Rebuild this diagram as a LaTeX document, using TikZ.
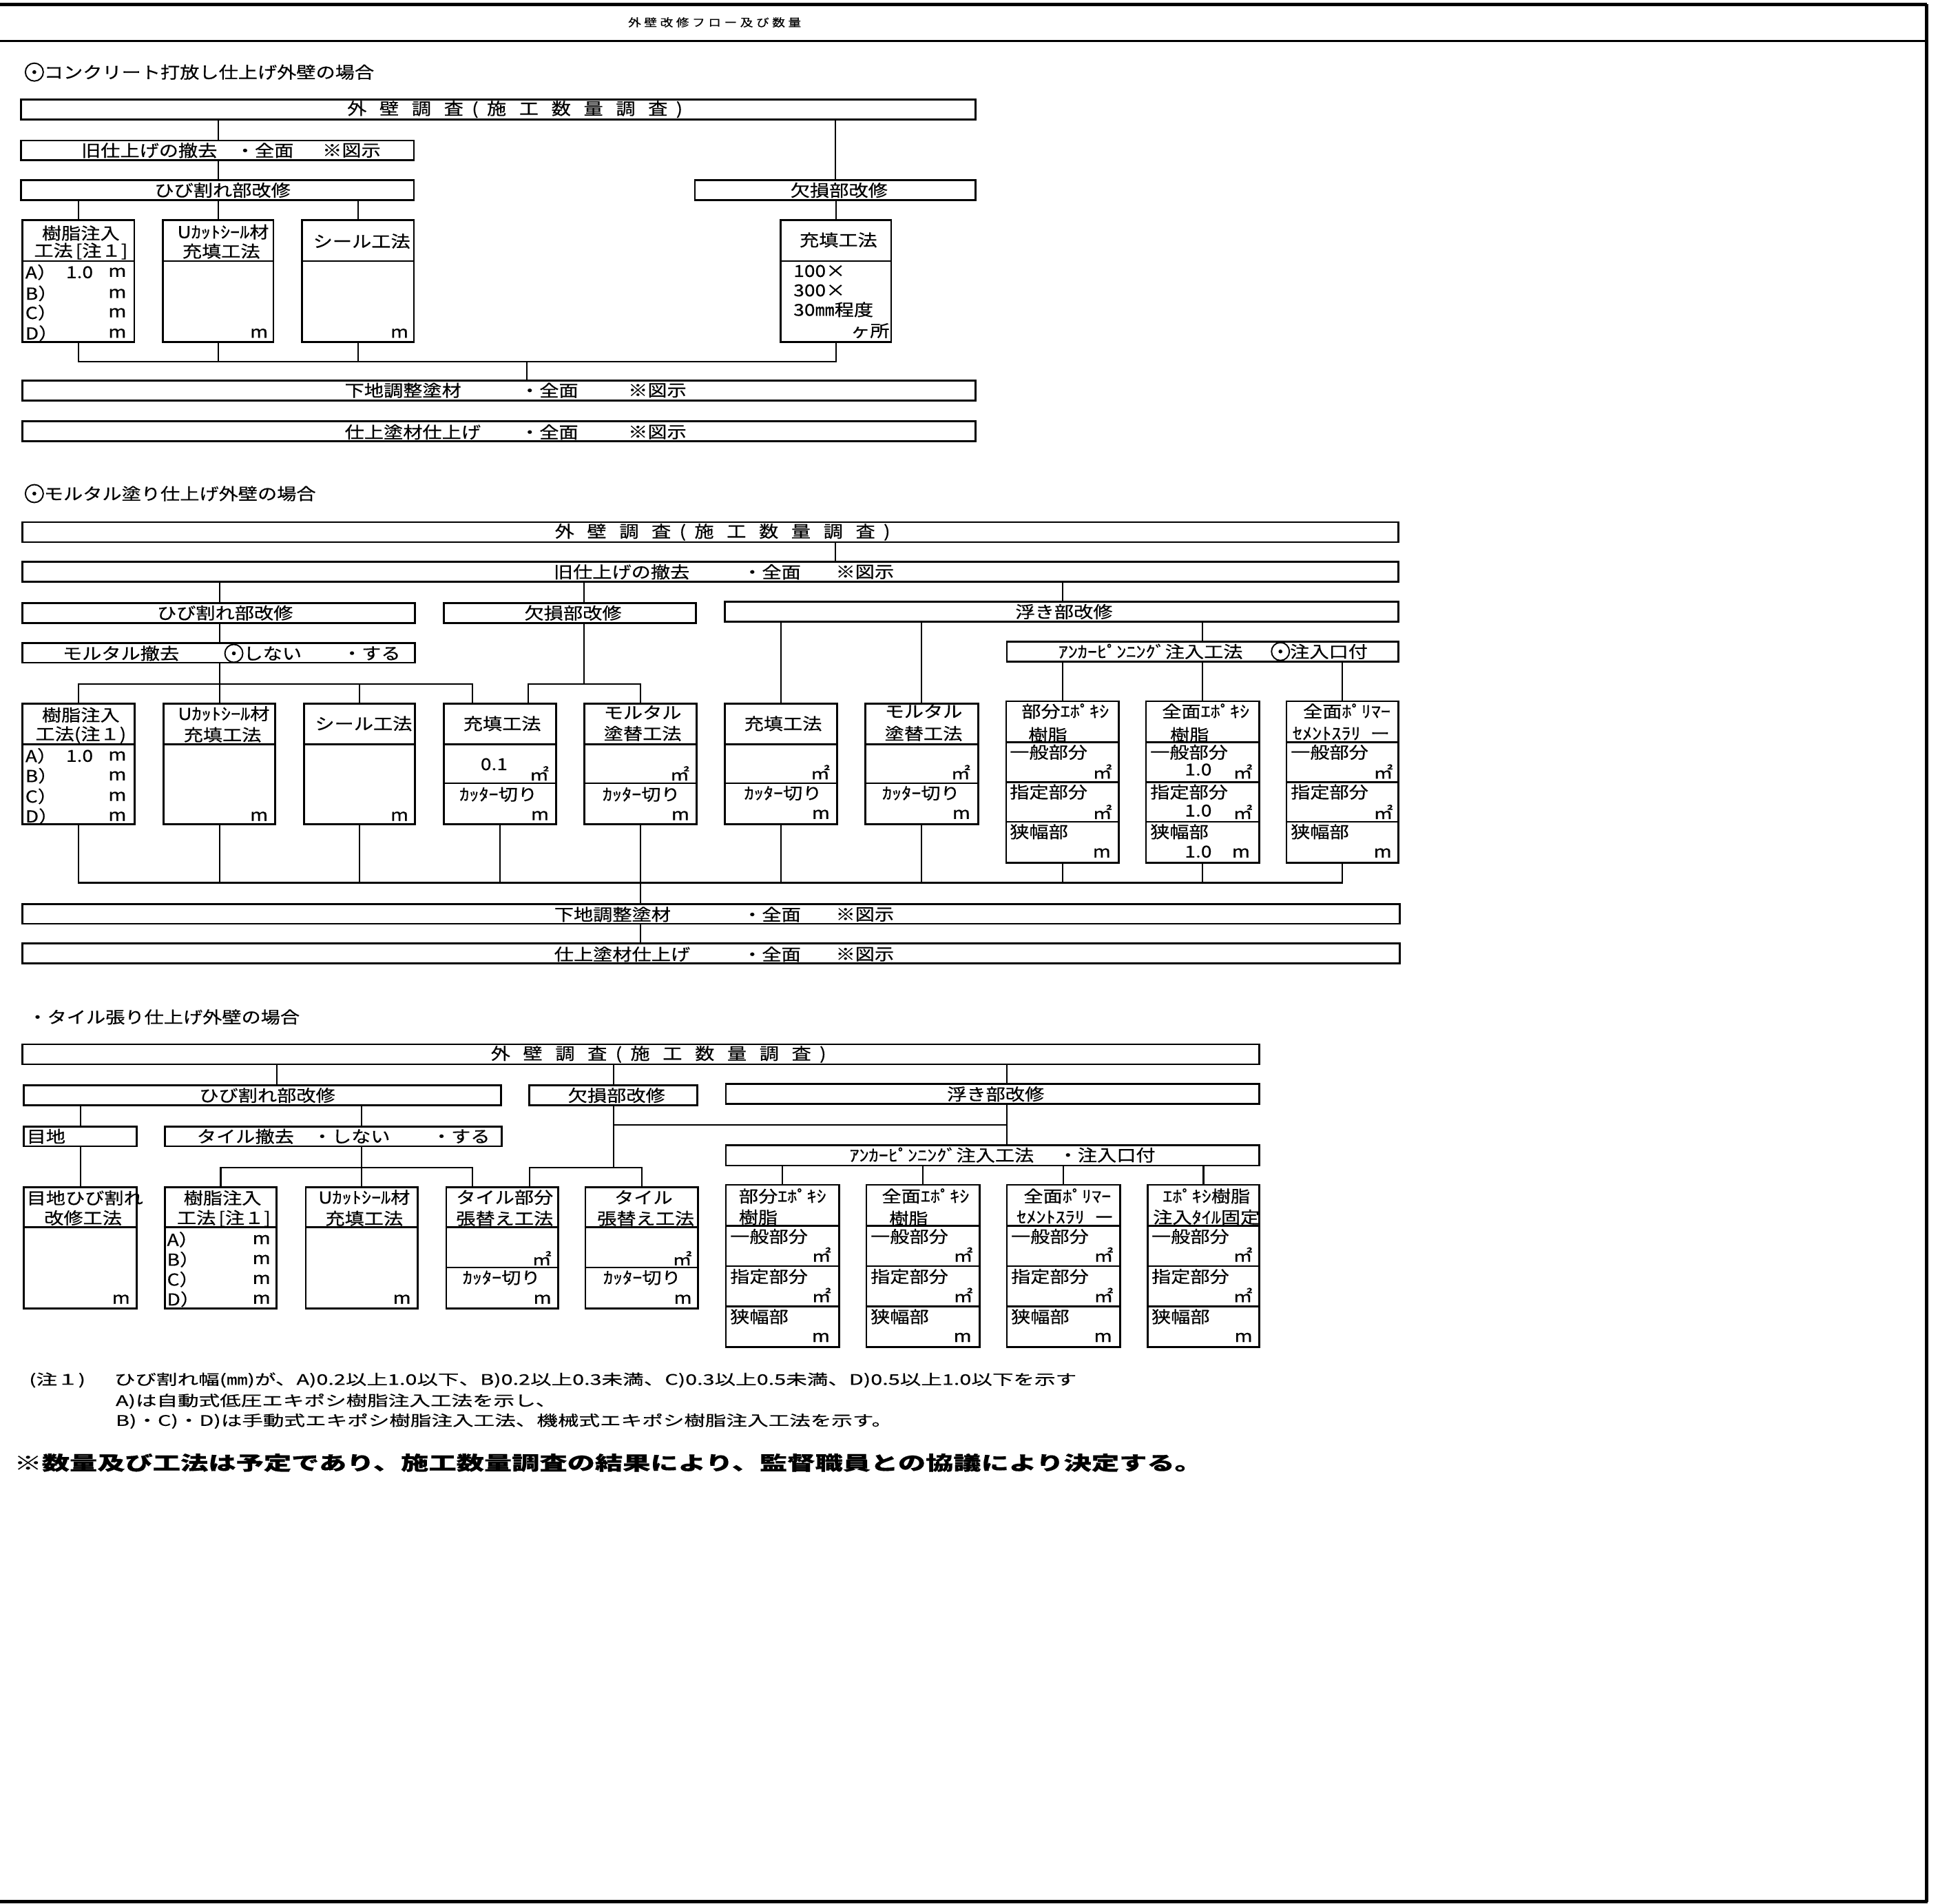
\documentclass[tikz,border=0pt]{standalone}
\usepackage{fontspec}
\usetikzlibrary{fit}
\newfontfamily\jpa[FakeStretch=1.18,FakeBold=0.5]{Noto Sans CJK JP}
\newfontfamily\jpx[FakeStretch=1.45,FakeBold=0.4]{Noto Sans CJK JP}
\newcommand\maru{\tikz[baseline=-2.6pt]{\draw[line width=0.55pt] (0,0) circle (3.7pt); \fill (0,0) circle (0.8pt);}}
\newcommand\gp{\hspace{5.3pt}}
\newcommand\gq{\hspace{3.5pt}}
\newcommand\tg{\hspace{1.3pt}}
\newcommand\mkbox[5]{\node[bx,fit={(#2,#3) (#4,#5)}] (#1) {};}
\newcommand\hdiv[2]{\draw[bxl] (#1.west |- 0,#2) -- (#1.east |- 0,#2);}
\newcommand\gaiheki{外\gp 壁\gp 調\gp 査\gq (\gq 施\gp 工\gp 数\gp 量\gp 調\gp 査\gq )}
\begin{document}
\begin{tikzpicture}[x=0.018048cm,y=-0.018048cm,
  bx/.style={draw,line width=0.8pt,inner sep=0pt,rectangle},
  bxl/.style={line width=0.8pt},
  ln/.style={line width=0.6pt},
  tx/.style={inner sep=0pt,font=\jpa\fontsize{6.8}{7.5}\selectfont},
  tl/.style={tx,anchor=west},
  tr/.style={tx,anchor=east},
  nt/.style={inner sep=0pt,anchor=west,font=\jpx\fontsize{6.0}{6.8}\selectfont}]
\useasboundingbox (0,0) rectangle (1568,1531.4);
% frame
\draw[line width=1.3pt] (0,3.5) -- (1550,3.5);
\draw[line width=0.8pt] (0,33) -- (1550,33);
\draw[line width=1.6pt] (1550,3.5) -- (1550,1529.5);
\draw[line width=1.3pt] (0,1529.5) -- (1551,1529.5);
\node[tl,font=\jpa\fontsize{4.5}{5}\selectfont] (ttl) at (505,18) {外\tg 壁\tg 改\tg 修\tg フ\tg ロ\tg ー\tg 及\tg び\tg 数\tg 量};

% ================= Section 1 =================
\node[tl] (h1) at (19.5,58) {\maru コンクリート打放し仕上げ外壁の場合};
\mkbox{a1}{17}{80}{785}{96}
\node[tl] (a1t) at (279,88) {\gaiheki};
\mkbox{b1}{17}{113}{333}{129}
\node[tl] (b1t1) at (65,121) {旧仕上げの撤去};
\node[tl] (b1t2) at (189,121) {・全面};
\node[tl] (b1t3) at (259,121) {※図示};
\mkbox{c1}{17}{145}{333}{161}
\node[tx] (c1t) at (179,153) {ひび割れ部改修};
\mkbox{d1}{559}{145}{785}{161}
\node[tx] (d1t) at (675,153) {欠損部改修};
\mkbox{e1}{18}{177}{108}{275}\hdiv{e1}{210}
\node[tx] (e1a) at (65,187.5) {樹脂注入};
\node[tx] (e1b) at (65,202) {工法\,[注１]};
\node[tl] (e1r1) at (20,219) {A）}; \node[tx] (e1v1) at (64,219) {1.0}; \node[tr] (e1m1) at (102,219) {m};
\node[tl] (e1r2) at (20,236) {B）}; \node[tr] (e1m2) at (102,236) {m};
\node[tl] (e1r3) at (20,251.5) {C）}; \node[tr] (e1m3) at (102,251.5) {m};
\node[tl] (e1r4) at (20,268) {D）}; \node[tr] (e1m4) at (102,268) {m};
\mkbox{e2}{131}{177}{220}{275}\hdiv{e2}{210}
\node[tx] (e2a) at (179.5,186.5) {Uｶｯﾄｼｰﾙ材};
\node[tx] (e2b) at (178,202) {充填工法};
\node[tr] (e2m) at (216,268) {m};
\mkbox{e3}{243}{177}{333}{275}\hdiv{e3}{210}
\node[tx] (e3a) at (291,194) {シール工法};
\node[tr] (e3m) at (329,268) {m};
\mkbox{e4}{628}{177}{717}{275}\hdiv{e4}{210}
\node[tx] (e4a) at (674.5,193) {充填工法};
\node[tl] (e4r1) at (638,218) {100×};
\node[tl] (e4r2) at (638,233.6) {300×};
\node[tl] (e4r3) at (638,249) {30㎜程度};
\node[tr] (e4r4) at (716,266) {ヶ所};
\mkbox{f1}{18}{306}{785}{322}
\node[tl] (f1t1) at (277,314) {下地調整塗材};
\node[tl] (f1t2) at (418,314) {・全面};
\node[tl] (f1t3) at (505,314) {※図示};
\mkbox{g1}{18}{339}{785}{355}
\node[tl] (g1t1) at (277,347.5) {仕上塗材仕上げ};
\node[tl] (g1t2) at (418,347.5) {・全面};
\node[tl] (g1t3) at (505,347.5) {※図示};
% connectors S1
\draw[ln] (a1.south -| e2.north) -- (b1.north -| e2.north);
\draw[ln] (b1.south -| e2.north) -- (c1.north -| e2.north);
\draw[ln] (a1.south -| d1.north) -- (d1.north);
\draw[ln] (c1.south -| e1.north) -- (e1.north);
\draw[ln] (c1.south -| e2.north) -- (e2.north);
\draw[ln] (c1.south -| e3.north) -- (e3.north);
\draw[ln] (d1.south -| e4.north) -- (e4.north);
\coordinate (bus1) at (424,291);
\draw[ln] (e1.south) |- (bus1 -| e4.south) -- (e4.south);
\draw[ln] (e2.south) -- (e2.south |- bus1);
\draw[ln] (e3.south) -- (e3.south |- bus1);
\draw[ln] (bus1) -- (bus1 |- f1.north);

% ================= Section 2 =================
\node[tl] (h2) at (19.5,397) {\maru モルタル塗り仕上げ外壁の場合};
\mkbox{a2}{18}{420}{1125}{436}
\node[tl] (a2t) at (446,428) {\gaiheki};
\mkbox{b2}{18}{452}{1125}{468}
\node[tl] (b2t1) at (445,460) {旧仕上げの撤去};
\node[tl] (b2t2) at (597,460) {・全面};
\node[tl] (b2t3) at (672,460) {※図示};
\mkbox{c2}{18}{485}{334}{501}
\node[tx] (c2t) at (181,493) {ひび割れ部改修};
\mkbox{d2}{357}{485}{560}{501}
\node[tx] (d2t) at (461,493) {欠損部改修};
\mkbox{h2b}{583}{484}{1125}{500}
\node[tx] (h2t) at (856,492) {浮き部改修};
\mkbox{i2}{18}{517}{334}{533}
\node[tl] (i2t1) at (50,525.5) {モルタル撤去};
\node[tl] (i2t2) at (180,525.5) {\maru しない};
\node[tl] (i2t3) at (275,525.5) {・する};
\mkbox{j2}{810}{516}{1125}{532}
\node[tl] (j2t1) at (851,524) {ｱﾝｶｰﾋﾟﾝﾆﾝｸﾞ注入工法};
\node[tl] (j2t2) at (1022,524) {\maru 注入口付};
% K row
\mkbox{k1}{18}{566}{108.5}{663}\hdiv{k1}{598.5}
\node[tx] (k1a) at (65,575) {樹脂注入};
\node[tx] (k1b) at (65,591) {工法(注１)};
\node[tl] (k1r1) at (20,608) {A）}; \node[tx] (k1v1) at (64,608) {1.0}; \node[tr] (k1m1) at (102,608) {m};
\node[tl] (k1r2) at (20,624) {B）}; \node[tr] (k1m2) at (102,624) {m};
\node[tl] (k1r3) at (20,640.5) {C）}; \node[tr] (k1m3) at (102,640.5) {m};
\node[tl] (k1r4) at (20,656.5) {D）}; \node[tr] (k1m4) at (102,656.5) {m};
\mkbox{k2}{131.5}{566}{221.5}{663}\hdiv{k2}{598.5}
\node[tx] (k2a) at (180,574) {Uｶｯﾄｼｰﾙ材};
\node[tx] (k2b) at (179,591) {充填工法};
\node[tr] (k2m) at (216,656.5) {m};
\mkbox{k3}{244.5}{566}{334}{663}\hdiv{k3}{598.5}
\node[tx] (k3a) at (292.5,582) {シール工法};
\node[tr] (k3m) at (329,656.5) {m};
\mkbox{k4}{357}{566}{447.5}{663}\hdiv{k4}{598.5}\hdiv{k4}{630}
\node[tx] (k4a) at (404,582) {充填工法};
\node[tx] (k4v) at (397.5,614.7) {0.1};
\node[tr] (k4u) at (442,622) {㎡};
\node[tx] (k4c) at (401,639) {ｶｯﾀｰ切り};
\node[tr] (k4m) at (442,656) {m};
\mkbox{k5}{470}{566}{560.5}{663}\hdiv{k5}{598.5}\hdiv{k5}{630}
\node[tx] (k5a) at (517,573) {モルタル};
\node[tx] (k5b) at (517,590) {塗替工法};
\node[tr] (k5u) at (555,622) {㎡};
\node[tx] (k5c) at (516,639) {ｶｯﾀｰ切り};
\node[tr] (k5m) at (555,656) {m};
\mkbox{k6}{583}{566}{673.5}{663}\hdiv{k6}{598.5}\hdiv{k6}{630}
\node[tx] (k6a) at (630,582) {充填工法};
\node[tr] (k6u) at (668,621) {㎡};
\node[tx] (k6c) at (630,638) {ｶｯﾀｰ切り};
\node[tr] (k6m) at (668,655) {m};
\mkbox{k7}{696}{566}{787}{663}\hdiv{k7}{598.5}\hdiv{k7}{630}
\node[tx] (k7a) at (743,572) {モルタル};
\node[tx] (k7b) at (743,590) {塗替工法};
\node[tr] (k7u) at (781,621) {㎡};
\node[tx] (k7c) at (741,638) {ｶｯﾀｰ切り};
\node[tr] (k7m) at (781,655) {m};
\mkbox{k8}{809.5}{564}{900}{694}\hdiv{k8}{597}\hdiv{k8}{629}\hdiv{k8}{661}
\node[tx] (k8a) at (857,572) {部分ｴﾎﾟｷｼ};
\node[tx] (k8b) at (843,591) {樹脂};
\node[tl] (k8c) at (812,605) {一般部分}; \node[tr] (k8u1) at (895,620.5) {㎡};
\node[tl] (k8d) at (812,637) {指定部分}; \node[tr] (k8u2) at (895,653) {㎡};
\node[tl] (k8e) at (812,669) {狭幅部}; \node[tr] (k8m) at (894,686) {m};
\mkbox{k9}{922}{564}{1013}{694}\hdiv{k9}{597}\hdiv{k9}{629}\hdiv{k9}{661}
\node[tx] (k9a) at (970,572) {全面ｴﾎﾟｷｼ};
\node[tx] (k9b) at (957,591) {樹脂};
\node[tl] (k9c) at (925,605) {一般部分}; \node[tx] (k9v1) at (964,619) {1.0}; \node[tr] (k9u1) at (1008,620.5) {㎡};
\node[tl] (k9d) at (925,637) {指定部分}; \node[tx] (k9v2) at (964,652) {1.0}; \node[tr] (k9u2) at (1008,653) {㎡};
\node[tl] (k9e) at (925,669) {狭幅部}; \node[tx] (k9v3) at (964,685) {1.0}; \node[tr] (k9m) at (1006,686) {m};
\mkbox{k10}{1035}{564}{1125}{694}\hdiv{k10}{597}\hdiv{k10}{629}\hdiv{k10}{661}
\node[tx] (k10a) at (1083.5,572) {全面ﾎﾟﾘﾏｰ};
\node[tx] (k10b) at (1079,590) {ｾﾒﾝﾄｽﾗﾘ\hspace{4pt}ー};
\node[tl] (k10c) at (1038,605) {一般部分}; \node[tr] (k10u1) at (1121,620.5) {㎡};
\node[tl] (k10d) at (1038,637) {指定部分}; \node[tr] (k10u2) at (1121,653) {㎡};
\node[tl] (k10e) at (1038,669) {狭幅部}; \node[tr] (k10m) at (1120,686) {m};
\mkbox{l2}{18}{727}{1126}{743}
\node[tl] (l2t1) at (445.5,735.5) {下地調整塗材};
\node[tl] (l2t2) at (597,735.5) {・全面};
\node[tl] (l2t3) at (672,735.5) {※図示};
\mkbox{m2}{18}{759}{1126}{775}
\node[tl] (m2t1) at (445.5,767.5) {仕上塗材仕上げ};
\node[tl] (m2t2) at (597,767.5) {・全面};
\node[tl] (m2t3) at (672,767.5) {※図示};
% connectors S2
\coordinate (v672) at (672,0);
\coordinate (v470) at (470,0);
\coordinate (v380) at (380,0);
\coordinate (v425) at (425,0);
\draw[ln] (a2.south -| v672) -- (b2.north -| v672);
\draw[ln] (b2.south -| k2.north) -- (c2.north -| k2.north);
\draw[ln] (b2.south -| v470) -- (d2.north -| v470);
\draw[ln] (b2.south -| k8.north) -- (h2b.north -| k8.north);
\draw[ln] (c2.south -| k2.north) -- (i2.north -| k2.north);
\coordinate (bus2a) at (176.5,550);
\draw[ln] (i2.south -| k2.north) -- (k2.north);
\draw[ln] (k1.north) |- (bus2a -| v380) -- (k4.north -| v380);
\draw[ln] (k3.north) -- (k3.north |- bus2a);
\draw[ln] (d2.south -| v470) -- (bus2a -| v470);
\draw[ln] (k4.north -| v425) |- (bus2a -| k5.north) -- (k5.north);
\draw[ln] (h2b.south -| k6.north) -- (k6.north);
\draw[ln] (h2b.south -| k7.north) -- (k7.north);
\draw[ln] (h2b.south -| k9.north) -- (j2.north -| k9.north);
\draw[ln] (j2.south -| k8.north) -- (k8.north);
\draw[ln] (j2.south -| k9.north) -- (k9.north);
\draw[ln] (j2.south -| k10.north) -- (k10.north);
\coordinate (bus2b) at (515.25,710);
\draw[ln] (k1.south) |- (bus2b -| k10.south) -- (k10.south);
\foreach \n in {k2,k3,k4,k5,k6,k7,k8,k9} \draw[ln] (\n.south) -- (\n.south |- bus2b);
\draw[ln] (bus2b -| k5.south) -- (l2.north -| k5.south);
\draw[ln] (l2.south -| k5.south) -- (m2.north -| k5.south);

% ================= Section 3 =================
\node[tl] (h3) at (22,818) {・タイル張り仕上げ外壁の場合};
\mkbox{a3}{18}{840}{1013}{856}
\node[tl] (a3t) at (394.5,848) {\gaiheki};
\mkbox{c3}{19}{873}{403}{889}
\node[tx] (c3t) at (215,881) {ひび割れ部改修};
\mkbox{d3}{426}{873}{561}{889}
\node[tx] (d3t) at (496,881) {欠損部改修};
\mkbox{h3b}{584}{872}{1013}{888}
\node[tx] (h3t) at (801,880) {浮き部改修};
\mkbox{jm}{19}{906}{110}{922}
\node[tl] (jmt) at (21,914) {目地};
\mkbox{tt}{132.5}{906}{403.5}{922}
\node[tl] (tt1) at (158,914) {タイル撤去};
\node[tl] (tt2) at (251,914) {・しない};
\node[tl] (tt3) at (347,914) {・する};
\mkbox{j3}{584}{921}{1013}{937.5}
\node[tl] (j3t1) at (683,929) {ｱﾝｶｰﾋﾟﾝﾆﾝｸﾞ注入工法};
\node[tl] (j3t2) at (851,929) {・注入口付};
% N row
\mkbox{n1}{19.3}{955}{110}{1052.5}\hdiv{n1}{987}
\node[tl] (n1a) at (21,963.5) {目地ひび割れ};
\node[tx] (n1b) at (66.8,979.6) {改修工法};
\node[tr] (n1m) at (105,1045) {m};
\mkbox{n2}{132.5}{955}{222.6}{1052.5}\hdiv{n2}{987}
\node[tx] (n2a) at (179,963.5) {樹脂注入};
\node[tx] (n2b) at (180,980) {工法\,[注１]};
\node[tl] (n2r1) at (134,997) {A）}; \node[tr] (n2m1) at (218,997) {m};
\node[tl] (n2r2) at (134,1013) {B）}; \node[tr] (n2m2) at (218,1013) {m};
\node[tl] (n2r3) at (134,1029) {C）}; \node[tr] (n2m3) at (218,1029) {m};
\node[tl] (n2r4) at (134,1045) {D）}; \node[tr] (n2m4) at (218,1045) {m};
\mkbox{n3}{246}{955}{336}{1052.5}\hdiv{n3}{987}
\node[tx] (n3a) at (293,963) {Uｶｯﾄｼｰﾙ材};
\node[tx] (n3b) at (293,980) {充填工法};
\node[tr] (n3m) at (331,1045) {m};
\mkbox{n4}{359}{955}{449}{1052.5}\hdiv{n4}{987}\hdiv{n4}{1019.5}
\node[tx] (n4a) at (406,963) {タイル部分};
\node[tx] (n4b) at (406,980) {張替え工法};
\node[tr] (n4u) at (444,1012) {㎡};
\node[tx] (n4c) at (403.5,1027.7) {ｶｯﾀｰ切り};
\node[tr] (n4m) at (444,1045) {m};
\mkbox{n5}{471}{955}{561.4}{1052.5}\hdiv{n5}{987}\hdiv{n5}{1019.5}
\node[tx] (n5a) at (517.7,963) {タイル};
\node[tx] (n5b) at (519.5,980) {張替え工法};
\node[tr] (n5u) at (557,1012) {㎡};
\node[tx] (n5c) at (516.6,1027.7) {ｶｯﾀｰ切り};
\node[tr] (n5m) at (557,1045) {m};
% P row
\mkbox{p1}{584}{953}{675}{1083.5}\hdiv{p1}{986}\hdiv{p1}{1018.4}\hdiv{p1}{1050.8}
\node[tl] (p1a) at (594,962) {部分ｴﾎﾟｷｼ};
\node[tl] (p1b) at (594,979) {樹脂};
\node[tl] (p1c) at (587,994.5) {一般部分}; \node[tr] (p1u1) at (669,1009) {㎡};
\node[tl] (p1d) at (587,1026.7) {指定部分}; \node[tr] (p1u2) at (669,1041.6) {㎡};
\node[tl] (p1e) at (587,1059) {狭幅部}; \node[tr] (p1m) at (668,1075.7) {m};
\mkbox{p2}{697}{953}{788}{1083.5}\hdiv{p2}{986}\hdiv{p2}{1018.4}\hdiv{p2}{1050.8}
\node[tx] (p2a) at (744.6,962) {全面ｴﾎﾟｷｼ};
\node[tx] (p2b) at (731,980) {樹脂};
\node[tl] (p2c) at (700,994.5) {一般部分}; \node[tr] (p2u1) at (783,1009) {㎡};
\node[tl] (p2d) at (700,1026.7) {指定部分}; \node[tr] (p2u2) at (783,1041.6) {㎡};
\node[tl] (p2e) at (700,1059) {狭幅部}; \node[tr] (p2m) at (782,1075.7) {m};
\mkbox{p3}{810}{953}{901}{1083.5}\hdiv{p3}{986}\hdiv{p3}{1018.4}\hdiv{p3}{1050.8}
\node[tx] (p3a) at (858.7,962) {全面ﾎﾟﾘﾏｰ};
\node[tx] (p3b) at (857,979) {ｾﾒﾝﾄｽﾗﾘ\hspace{4pt}ー};
\node[tl] (p3c) at (813,994.5) {一般部分}; \node[tr] (p3u1) at (896,1009) {㎡};
\node[tl] (p3d) at (813,1026.7) {指定部分}; \node[tr] (p3u2) at (896,1041.6) {㎡};
\node[tl] (p3e) at (813,1059) {狭幅部}; \node[tr] (p3m) at (895,1075.7) {m};
\mkbox{p4}{923.4}{953}{1013}{1083.5}\hdiv{p4}{986}\hdiv{p4}{1018.4}\hdiv{p4}{1050.8}
\node[tx] (p4a) at (970.6,962) {ｴﾎﾟｷｼ樹脂};
\node[tx] (p4b) at (970.6,979) {注入ﾀｲﾙ固定};
\node[tl] (p4c) at (926,994.5) {一般部分}; \node[tr] (p4u1) at (1008,1009) {㎡};
\node[tl] (p4d) at (926,1026.7) {指定部分}; \node[tr] (p4u2) at (1008,1041.6) {㎡};
\node[tl] (p4e) at (926,1059) {狭幅部}; \node[tr] (p4m) at (1008,1075.7) {m};
% connectors S3
\coordinate (v222) at (222.7,0);
\coordinate (v493) at (493.5,0);
\coordinate (v810) at (810,0);
\coordinate (v426) at (426,0);
\draw[ln] (a3.south -| v222) -- (c3.north -| v222);
\draw[ln] (a3.south -| v493) -- (d3.north -| v493);
\draw[ln] (a3.south -| v810) -- (h3b.north -| v810);
\draw[ln] (c3.south -| n1.north) -- (jm.north -| n1.north);
\draw[ln] (c3.south -| n3.north) -- (tt.north -| n3.north);
\draw[ln] (jm.south -| n1.north) -- (n1.north);
\coordinate (bus3) at (291,939);
\draw[ln] (tt.south -| n3.north) -- (n3.north);
\draw[ln] (n2.north) |- (bus3 -| v380) -- (n4.north -| v380);
\draw[ln] (d3.south -| v493) -- (bus3 -| v493);
\draw[ln] (n4.north -| v426) |- (bus3 -| n5.north) -- (n5.north);
\coordinate (h905) at (493.5,905);
\draw[ln] (h905) -- (h905 -| v810);
\draw[ln] (h3b.south -| v810) -- (j3.north -| v810);
\draw[ln] (j3.south -| p1.north) -- (p1.north);
\draw[ln] (j3.south -| p2.north) -- (p2.north);
\draw[ln] (j3.south -| p3.north) -- (p3.north);
\draw[ln] (j3.south -| p4.north) -- (p4.north);

% ================= Notes =================
\node[nt] (note0) at (23,1110) {(注１)};
\node[nt] (note1) at (91.5,1110) {ひび割れ幅(㎜)が、A)0.2以上1.0以下、B)0.2以上0.3未満、C)0.3以上0.5未満、D)0.5以上1.0以下を示す};
\node[nt] (note2) at (92.7,1127) {A)は自動式低圧エキポシ樹脂注入工法を示し、};
\node[nt] (note3) at (92.7,1143) {B)・C)・D)は手動式エキポシ樹脂注入工法、機械式エキポシ樹脂注入工法を示す。};
\node[anchor=west,inner sep=0pt,font=\jpx\bfseries\fontsize{7.9}{9}\selectfont] (big) at (11,1176.5) {※数量及び工法は予定であり、施工数量調査の結果により、監督職員との協議により決定する。};
\end{tikzpicture}
\end{document}
